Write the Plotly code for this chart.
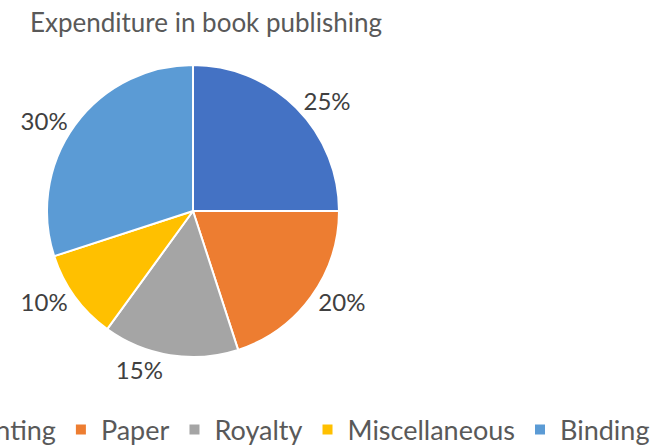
import plotly.graph_objects as go

categories = ["Printing", "Paper", "Royalty", "Miscellaneous", "Binding"]
values = [25, 20, 15, 10, 30]
colors = ["#4472C4", "#ED7D31", "#A5A5A5", "#FFC000", "#5B9BD5"]

# The reference is a crop: its left edge cuts the legend. Draw a wider figure
# and shift it left so the visible 655x448 window matches.
SHIFT = 125
VW, H = 655, 448
W = VW + SHIFT
cx, cy, r = 193 + SHIFT, 211, 146

fig = go.Figure(go.Pie(
    labels=categories,
    values=values,
    sort=False,
    direction="clockwise",
    rotation=0,
    marker=dict(colors=colors, line=dict(color="white", width=2)),
    textinfo="percent",
    textposition="outside",
    textfont=dict(family="Lato", size=24, color="#404040"),
    automargin=False,
    domain=dict(x=[(cx - r) / W, (cx + r) / W], y=[(H - cy - r) / H, (H - cy + r) / H]),
    hoverinfo="label+percent",
))

fig.update_layout(
    width=W, height=H,
    paper_bgcolor="white",
    plot_bgcolor="white",
    margin=dict(l=0, r=0, t=0, b=0, autoexpand=False),
    title=dict(text="Expenditure in book publishing", x=(206 + SHIFT) / W, xanchor="center",
               y=1 - 23 / H, yanchor="middle",
               font=dict(family="Lato", size=26, color="#595959")),
    showlegend=True,
    legend=dict(orientation="h", x=1.0, xanchor="right", y=1 - 430 / H, yanchor="middle",
                font=dict(family="Lato", size=27, color="#595959"),
                itemwidth=30, traceorder="normal", bgcolor="rgba(0,0,0,0)"),
)

post = (
    "document.body.style.margin='0';"
    "document.body.style.overflow='hidden';"
    "document.getElementById('{plot_id}').style.marginLeft='-%dpx';" % SHIFT
)
fig.write_html("out.html", post_script=post, config={"displayModeBar": False})
